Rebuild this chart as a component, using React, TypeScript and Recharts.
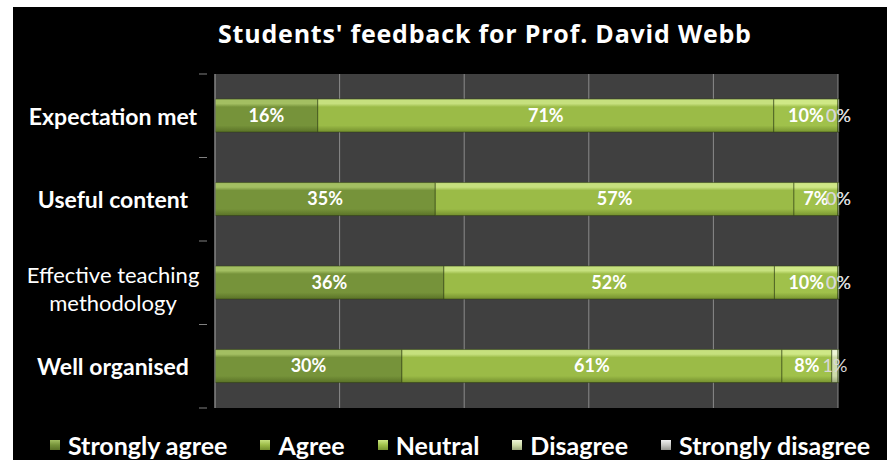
import React from 'react';
import { BarChart, Bar, XAxis, YAxis, CartesianGrid, Legend, LabelList } from 'recharts';

const categories = ['Expectation met', 'Useful content', 'Effective teaching methodology', 'Well organised'];
const boldCategory = [true, true, false, true];
const stronglyAgree = [16, 35, 36, 30];
const agree = [71, 57, 52, 61];
const neutral = [10, 7, 10, 8];
const disagree = [0, 0, 0, 1];
const stronglyDisagree: (number | null)[] = [0, 0, 0, null];
const seriesNames = ['Strongly agree', 'Agree', 'Neutral', 'Disagree', 'Strongly disagree'];
const seriesKeys = ['sa', 'a', 'n', 'd', 'sd'];
const xTicks = [0, 0.2, 0.4, 0.6, 0.8, 1];
const title = "Students' feedback for Prof. David Webb";

const palettes = [
  { top: '#a3bf62', mid: '#76933a', bot: '#5a7227' },
  { top: '#c6e07e', mid: '#9bbb47', bot: '#748f2e' },
  { top: '#cfe886', mid: '#a0c14b', bot: '#789530' },
  { top: '#eef5d8', mid: '#cfdcaa', bot: '#9ba77b' },
  { top: '#f0f0f0', mid: '#c8c8c4', bot: '#959590' },
];

const data = categories.map((c, i) => ({
  name: c,
  sa: stronglyAgree[i],
  a: agree[i],
  n: neutral[i],
  d: disagree[i],
  sd: stronglyDisagree[i],
}));

const W = 874;
const H = 453;
const LEG_H = 30;
const M = { top: 67, right: 49, bottom: 22, left: 0 };
const YW = 202;
const BAND = (H - M.top - M.bottom - LEG_H) / categories.length;
const FONT = 'Lato, "Open Sans", sans-serif';

function wrap(s: string, max: number): string[] {
  const words = s.split(' ');
  const lines: string[] = [];
  let cur = '';
  for (const w of words) {
    if (cur && (cur + ' ' + w).length > max) {
      lines.push(cur);
      cur = w;
    } else cur = cur ? cur + ' ' + w : w;
  }
  if (cur) lines.push(cur);
  return lines;
}

const CatTick = (props: any) => {
  const { x, y, payload, index } = props;
  const bold = boldCategory[index];
  const lines = wrap(String(payload.value), 20);
  const lh = 28;
  const cx = 100;
  const y0 = lines.length > 1 ? y + 5 - ((lines.length - 1) * lh) / 2 : y;
  return (
    <g>
      <line x1={x - 8} x2={x} y1={y - BAND / 2} y2={y - BAND / 2} stroke="#808080" strokeWidth={1} />
      {index === categories.length - 1 && (
        <line x1={x - 8} x2={x} y1={y + BAND / 2} y2={y + BAND / 2} stroke="#808080" strokeWidth={1} />
      )}
      <text
        x={cx}
        y={y0}
        textAnchor="middle"
        dominantBaseline="central"
        fill="#ffffff"
        fontFamily={FONT}
        fontSize={bold ? 23 : 22}
        fontWeight={bold ? 700 : 400}
      >
        {lines.map((l, i) => (
          <tspan key={i} x={cx} dy={i === 0 ? 0 : lh}>
            {l}
          </tspan>
        ))}
      </text>
    </g>
  );
};

const LegendContent = () => (
  <div
    style={{
      display: 'flex',
      justifyContent: 'center',
      alignItems: 'center',
      gap: 33,
      fontFamily: FONT,
      fontSize: 25,
      fontWeight: 700,
      color: '#ffffff',
      height: LEG_H,
      lineHeight: `${LEG_H}px`,
      paddingLeft: 20,
      boxSizing: 'border-box',
    }}
  >
    {seriesNames.map((n, i) => (
      <div key={n} style={{ display: 'flex', alignItems: 'center' }}>
        <span
          style={{
            display: 'inline-block',
            width: 10,
            height: 10,
            marginRight: 8,
            background: `linear-gradient(${palettes[i].top}, ${palettes[i].mid}, ${palettes[i].bot})`,
          }}
        />
        <span>{n}</span>
      </div>
    ))}
  </div>
);

export default function App() {
  return (
    <div style={{ position: 'absolute', left: 13, top: 7, width: W, height: H, background: '#000000' }}>
      <div
        style={{
          position: 'absolute',
          left: 205,
          top: 11,
          whiteSpace: 'nowrap',
          color: '#ffffff',
          fontFamily: '"Open Sans", sans-serif',
          fontWeight: 700,
          fontSize: 25,
          letterSpacing: 0.8,
          lineHeight: '30px',
        }}
      >
        {title}
      </div>
      <BarChart
        width={W}
        height={H}
        data={data}
        layout="vertical"
        stackOffset="expand"
        margin={M}
        barCategoryGap="30%"
      >
        <defs>
          {palettes.map((p, i) => (
            <linearGradient key={i} id={`g${i}`} x1="0" y1="0" x2="0" y2="1">
              <stop offset="0%" stopColor={p.top} />
              <stop offset="14%" stopColor={p.top} />
              <stop offset="24%" stopColor={p.mid} />
              <stop offset="80%" stopColor={p.mid} />
              <stop offset="100%" stopColor={p.bot} />
            </linearGradient>
          ))}
        </defs>
        <CartesianGrid horizontal={false} vertical={true} stroke="#8a8a8a" fill="#404040" fillOpacity={1} />
        <XAxis type="number" domain={[0, 1]} ticks={xTicks} hide />
        <YAxis
          type="category"
          dataKey="name"
          width={YW}
          axisLine={{ stroke: '#808080' }}
          tickLine={false}
          tick={<CatTick />}
          interval={0}
        />
        <Legend
          verticalAlign="bottom"
          height={LEG_H}
          content={<LegendContent />}
          wrapperStyle={{ bottom: 0, left: 0, width: W }}
        />
        {seriesKeys.map((k, i) => (
          <Bar
            key={k}
            dataKey={k}
            name={seriesNames[i]}
            stackId="s"
            fill={`url(#g${i})`}
            stroke="rgba(50,65,20,0.55)"
            strokeWidth={1}
            minPointSize={i >= 3 ? 1 : 0}
            isAnimationActive={false}
          >
            <LabelList
              dataKey={k}
              position="center"
              formatter={(v: any) => (v === null || v === undefined ? '' : `${v}%`)}
              fill={i < 3 ? '#ffffff' : '#d8d8d8'}
              fontFamily={FONT}
              fontSize={18}
              fontWeight={i < 3 ? 700 : 400}
            />
          </Bar>
        ))}
      </BarChart>
    </div>
  );
}
